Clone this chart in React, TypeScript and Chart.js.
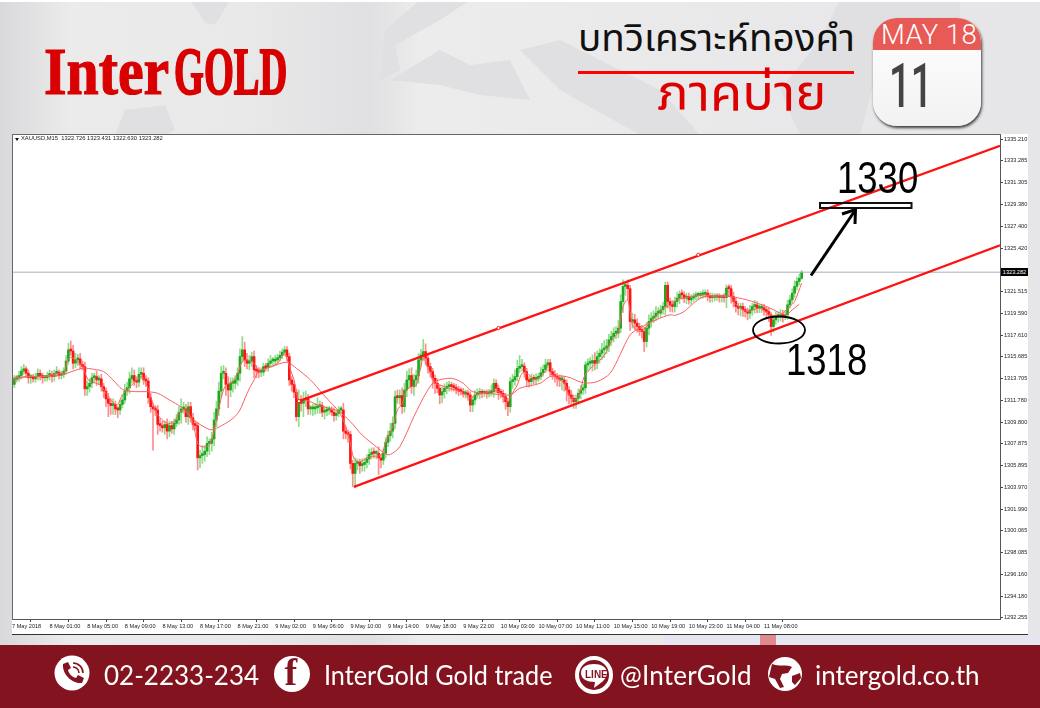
import React, { useEffect, useRef } from "react";
import { Chart, registerables } from "chart.js";

Chart.register(...registerables);

// 15-minute closes, one row per axis label (16 candles)
const closes = [
  1313.2,1313.7,1313.8,1314.0,1314.4,1314.6,1314.2,1313.8,1313.9,1313.7,1313.9,1314.2,1314.0,1313.8,1313.8,1314.0,
  1314.1,1313.9,1314.2,1314.3,1314.0,1314.1,1314.4,1315.3,1316.3,1316.2,1315.1,1315.4,1315.5,1315.0,1314.8,1312.8,
  1313.0,1313.3,1313.8,1313.9,1313.6,1313.7,1313.0,1312.6,1311.9,1311.5,1311.3,1311.4,1311.0,1310.9,1311.4,1311.8,
  1312.6,1312.9,1313.7,1314.0,1313.5,1313.4,1314.1,1314.2,1313.6,1313.5,1312.0,1311.2,1311.0,1310.9,1309.6,1309.5,
  1309.3,1309.6,1309.0,1309.5,1309.2,1309.7,1310.0,1310.7,1311.0,1311.0,1310.3,1311.2,1310.2,1309.6,1309.5,1306.6,
  1306.8,1306.9,1307.2,1307.9,1307.9,1308.3,1310.0,1311.0,1312.6,1314.2,1314.2,1313.2,1312.7,1313.3,1313.3,1313.6,
  1314.2,1315.7,1316.3,1315.4,1315.1,1315.3,1315.7,1314.5,1314.4,1314.3,1314.3,1314.8,1314.7,1315.1,1315.3,1315.3,
  1315.4,1315.6,1315.8,1316.1,1316.3,1315.7,1313.6,1313.2,1312.5,1310.3,1311.7,1311.5,1311.8,1311.9,1311.0,1311.0,
  1311.0,1311.1,1311.2,1311.3,1310.7,1310.8,1310.9,1310.9,1310.7,1310.4,1310.6,1310.9,1310.9,1309.0,1308.8,1308.7,
  1306.1,1305.2,1306.1,1306.2,1305.9,1306.0,1306.2,1306.5,1306.9,1307.1,1307.0,1307.0,1306.6,1306.4,1307.0,1308.0,
  1308.6,1309.0,1309.7,1312.1,1312.0,1312.2,1311.2,1312.7,1313.6,1314.0,1313.0,1313.6,1314.0,1315.4,1315.85,1316.15,
  1315.55,1314.8,1314.35,1313.75,1313.3,1312.85,1312.25,1312.55,1312.85,1313.0,1313.1,1313.0,1312.9,1312.75,1312.6,1312.55,
  1312.35,1312.4,1312.25,1311.35,1311.8,1312.25,1312.4,1312.45,1312.4,1312.4,1312.35,1312.45,1312.55,1313.3,1312.85,1312.45,
  1312.4,1312.1,1311.65,1311.2,1313.45,1313.6,1313.9,1314.65,1314.8,1314.85,1314.35,1313.6,1313.45,1313.75,1313.65,1313.75,
  1313.9,1314.25,1314.55,1314.95,1315.15,1314.35,1314.05,1313.9,1313.75,1313.6,1313.6,1313.3,1312.7,1312.25,1311.95,1311.65,
  1311.95,1312.4,1312.7,1312.9,1314.95,1315.1,1315.1,1315.35,1315.1,1315.7,1316.0,1316.3,1316.45,1316.65,1317.2,1317.5,
  1317.8,1317.8,1318.25,1320.65,1322.0,1322.1,1321.8,1318.85,1319.0,1318.7,1318.4,1318.1,1317.95,1317.05,1318.25,1318.85,
  1319.15,1319.3,1319.6,1319.6,1319.9,1320.2,1322.1,1320.65,1320.35,1320.2,1320.65,1320.95,1321.3,1321.25,1320.95,1321.1,
  1320.8,1320.95,1321.1,1321.2,1321.2,1321.25,1321.3,1321.4,1321.1,1321.0,1321.0,1321.05,1321.05,1321.0,1321.05,1321.0,
  1321.85,1321.8,1321.1,1320.65,1320.2,1320.05,1320.2,1319.9,1319.75,1319.6,1319.9,1320.2,1320.35,1320.05,1320.05,1320.1,
  1319.9,1319.75,1319.45,1318.4,1319.0,1319.3,1319.3,1319.45,1319.3,1319.45,1320.35,1320.8,1321.4,1322.0,1322.45,1322.73,
  1323.282,
];
const firstOpen = 1313.6;

// length of the upper wick above the body of each candle
const upperWicks = [
  .3,.3,.2,.4,.4,.4,.2,.3,.2,.2,.3,.4,.3,.2,.2,.3,
  .4,.3,.3,.5,.2,.3,.3,.5,.6,.8,.5,.6,.4,.5,.3,.4,
  .5,.4,.4,.3,.5,.3,.4,.3,.3,.5,.4,.5,.3,.2,.4,.5,
  .6,.5,.6,.7,.5,.4,.6,.5,.5,.4,.3,.4,.3,.3,.4,.5,
  .4,.3,.5,.4,.4,.4,.5,.5,.9,.6,.4,.4,.4,.4,.3,.3,
  .5,.8,.5,.6,.4,.6,.7,.7,.8,.6,.7,.5,.7,.5,.5,.4,
  .5,.7,1.2,.7,.6,.5,.4,.5,.4,.3,.4,.3,.3,.4,.5,.3,
  .4,.3,.4,.3,.3,.3,.3,.3,.3,.3,1.0,.5,.7,.7,.4,.3,
  .4,.4,.8,.4,.3,.4,.3,.3,.3,.4,.3,.3,.3,.6,.4,.3,
  .3,.3,.5,.3,.3,.5,.4,.4,.5,.4,.4,.3,.6,.3,.4,.4,
  .4,.7,.6,.5,.6,.5,.7,.6,.8,.6,.7,.5,.5,.6,.5,1.1,
  .7,.3,.3,.3,.3,.4,.3,.4,.4,.4,.4,.3,.3,.3,.3,.3,
  .3,.3,.3,.3,.3,.4,.4,.4,.3,.3,.3,.3,.6,.4,.3,.3,
  .3,.3,.3,.3,.4,.5,.6,.7,1.0,.6,.3,.3,.3,.4,.3,.4,
  .3,.5,.4,.5,.3,.3,.3,.4,.3,.3,.4,.3,.3,.3,.4,.3,
  .3,.4,.4,.3,.3,.4,.5,.5,.7,.5,.4,.6,.7,.6,.5,.5,
  .5,.6,.7,.6,.6,.3,.5,.3,.6,.5,.4,.3,.4,.4,.5,.6,
  .5,.5,.6,.5,.4,.4,.3,.3,.3,.4,.4,.5,.3,.4,.3,.3,
  .3,.3,.3,.3,.3,.3,.4,.3,.3,.3,.4,.3,.3,.3,.2,.3,
  .3,.3,.3,.4,.3,.3,.3,.3,.3,.3,.4,.3,.4,.3,.3,.3,
  .3,.3,.3,.2,.4,.4,.4,.5,.4,.4,.4,.4,.4,.5,.4,.4,
  .15,
];

// length of the lower wick below the body of each candle
const lowerWicks = [
  .6,.3,.3,.3,.3,.3,.4,.5,.5,.3,.3,.3,.4,.5,.3,.3,
  .4,.5,.4,.3,.3,.3,.3,.3,.3,.4,.5,.4,.5,.4,.3,.6,
  .6,.5,.4,.4,.5,.4,.4,.6,.7,1.2,.8,.8,.5,.7,.4,.3,
  .3,.4,.5,.4,.4,.5,.4,.4,.4,.5,.5,.5,3.7,.5,.9,.5,
  .4,.6,.7,.5,.4,.5,.3,.4,1.0,.4,.5,.7,.4,.5,.4,1.1,
  .9,.7,.6,.5,1.0,.7,.6,.6,.6,.6,.5,1.0,1.6,.6,.8,.5,
  .5,.7,.5,.6,.5,.6,.5,.7,.6,.5,.4,.3,.3,.3,.3,.3,
  .3,.3,.3,.3,.3,.4,.5,.6,.5,.4,.9,.7,1.2,.6,.5,.5,
  .6,.5,.5,.6,.4,.6,.4,.4,.3,.5,.4,.3,.3,.7,.5,.7,
  .5,1.2,1.3,.6,.7,.5,.6,.5,.5,.4,.4,.5,1.5,.7,.4,.4,
  .4,.5,.6,.5,.5,.6,.6,.5,.6,.7,.6,.8,.6,.7,.6,.5,
  .6,.6,.5,.9,.9,.4,.8,.7,.6,.5,.4,.4,.3,.4,.4,.3,
  .3,.4,.5,.6,.6,.4,.3,.5,.4,.3,.4,.3,.3,.5,.4,.6,
  .4,.5,.7,.8,.5,.6,.5,.4,.4,.4,.5,.6,.5,.4,.4,.4,
  .3,.3,.3,.3,.3,.4,.4,.5,.7,.6,.9,.7,1.0,.8,.5,.6,
  .6,.5,.5,.4,.5,.5,.5,.7,.6,.5,.6,.6,.7,.5,.5,.5,
  .5,.5,.4,.4,1.0,.8,1.0,.8,.6,.6,.5,.5,.6,.9,.5,.6,
  .5,.4,.4,.5,.4,.4,.8,.6,.6,.5,.5,.5,.5,.4,.4,.5,
  .4,.4,.3,.3,.3,.3,.3,.3,.4,.4,.4,.3,.3,.4,.4,.4,
  .9,.7,.6,.5,.5,.6,.7,.6,.5,.6,.5,.5,.6,.4,.4,.4,
  .5,.5,.6,.8,.5,.4,.5,.4,.5,.3,.4,.3,.3,.4,.3,.3,
  .1,
];

const slowMaIndex = [0,6,13,21,30,35,39,43,47,52,57,62,67,72,77,84,87,94,97,100,103,105,110,117,121,127,132,138,144,149,155,159,161,165,171,176.5,180,187,192,196,203,212,216,224.7,229,236,243,249,254.5,258.7,263,267,274,280,282,286,290,294,300,305.5,312.6,321,327,329.6,332,335];
const slowMaValues = [1313.45,1313.9,1313.9,1314.05,1314.65,1314.55,1314.35,1313.6,1312.75,1312.55,1312.55,1312.4,1311.8,1311.15,1310.05,1309.15,1309.25,1310.15,1310.9,1312.4,1313.6,1314.35,1314.75,1315.2,1314.65,1313.6,1312.4,1311.05,1309.85,1308.65,1307.6,1306.95,1306.9,1307.6,1310.3,1312.55,1313.45,1313.75,1313.3,1312.55,1312.4,1312.25,1312.85,1313.3,1313.9,1313.9,1313.35,1313.45,1314.2,1315.85,1317.65,1318.25,1319.0,1319.45,1319.4,1319.75,1320.5,1321.05,1321.2,1321.1,1320.8,1320.2,1319.6,1319.45,1319.9,1320.4];

const fastMaIndex = [0,6,13,20,22,24,26,30,32.5,37.5,40,44.5,47,51,55,57,59.5,61.5,66,69,71.5,74,77,79,81,84,87,89,91,94,96,98,100,103,105,108,113,116,118,120,122,125,130,135,139,142,144,145.5,148,152,157,159,162,164,166,168,170,172,174,175,178,180,182,186,191,195,197,201,205,208,211,212.5,215,217,219,223,228,230,235,237,239.5,241.5,243.5,247,251,253,254.5,256,258,260,262,264,267,270,274,277.5,280.5,283,289,294.5,300,305.5,307.5,312.6,318,322.5,327,331,333,336];
const fastMaValues = [1313.75,1313.9,1313.9,1314.2,1314.2,1315.55,1315.55,1314.8,1313.6,1313.15,1312.4,1311.35,1312.25,1313.15,1313.9,1313.3,1311.8,1310.6,1309.7,1309.85,1310.75,1310.9,1309.7,1307.9,1307.6,1307.75,1310.0,1311.95,1313.15,1313.45,1314.2,1315.25,1315.4,1315.1,1314.5,1314.65,1315.1,1316.0,1314.8,1313.6,1311.8,1311.8,1311.35,1311.05,1310.75,1309.4,1307.9,1306.55,1306.25,1306.7,1306.85,1308.05,1309.4,1310.9,1311.5,1312.7,1313.0,1313.15,1314.8,1315.55,1314.2,1313.3,1313.15,1312.85,1312.55,1311.95,1312.25,1312.4,1312.7,1312.4,1311.65,1312.25,1313.15,1314.2,1314.2,1313.6,1314.5,1314.05,1313.3,1312.25,1311.8,1312.4,1313.9,1314.8,1315.55,1316.15,1316.9,1317.35,1317.95,1320.2,1320.8,1318.55,1317.95,1318.4,1319.3,1320.05,1320.35,1320.8,1321.1,1321.25,1321.05,1321.1,1320.5,1319.75,1320.05,1319.45,1319.45,1320.2,1320.65,1322.3];

const upperChannelIndex = [122.1, 420.4];
const upperChannelValues = [1311.7, 1334.63];
const lowerChannelIndex = [145.5, 420.4];
const lowerChannelValues = [1303.99, 1325.7];
const anchorIndex = [122.1, 207, 292];
const anchorValues = [1311.7, 1318.27, 1324.85];
const currentPrice = 1323.282;

const xTickIndex = [0,16,32,48,64,80,96,112,128,144,160,176,192,208,224,240,256,272,288,304,320];
const xTickLabels = ["7 May 2018","8 May 01:00","8 May 05:00","8 May 09:00","8 May 13:00","8 May 17:00","8 May 21:00","9 May 02:00","9 May 06:00","9 May 10:00","9 May 14:00","9 May 18:00","9 May 22:00","10 May 03:00","10 May 07:00","10 May 11:00","10 May 15:00","10 May 19:00","10 May 23:00","11 May 04:00","11 May 08:00"];
const yTickValues = [1335.21,1333.285,1331.305,1329.38,1327.4,1325.42,1323.465,1321.515,1319.59,1317.61,1315.685,1313.705,1311.78,1309.8,1307.875,1305.895,1303.97,1301.99,1300.065,1298.085,1296.16,1294.18,1292.255];

const axisFont = { family: "'Liberation Sans'", size: 5.6 };

function pts(xs: number[], ys: number[]) {
  return xs.map((x, i) => ({ x, y: ys[i] }));
}

function PriceChart() {
  const ref = useRef<HTMLCanvasElement | null>(null);
  useEffect(() => {
    const opens = closes.map((_, i) => (i === 0 ? firstOpen : closes[i - 1]));
    const bull = closes.map((c, i) => c >= opens[i]);
    const wickData = closes.map((c, i) => ({
      x: i,
      y: [Math.min(c, opens[i]) - lowerWicks[i], Math.max(c, opens[i]) + upperWicks[i]],
    }));
    const bodyData = closes.map((c, i) => ({ x: i, y: [opens[i], c] }));
    const line = (data: any, color: string, width: number, order: number, tension = 0) => ({
      type: "line", data, borderColor: color, borderWidth: width, pointRadius: 0, tension, order,
    });
    const chart = new Chart(ref.current as HTMLCanvasElement, {
      type: "bar",
      data: {
        datasets: [
          { data: wickData, grouped: false, barThickness: 1, order: 6, backgroundColor: bull.map((b) => (b ? "#8fdc8a" : "#ff8c8c")) },
          { data: bodyData, grouped: false, barThickness: 2, minBarLength: 2, order: 5, backgroundColor: bull.map((b) => (b ? "#1fa81f" : "#ff1414")) },
          line(pts([0, 420.4], [currentPrice, currentPrice]), "#a3afc0", 1, 4),
          line(pts(slowMaIndex, slowMaValues), "#fa6060", 1, 3, 0.3),
          line(pts(fastMaIndex, fastMaValues), "#fa6060", 1, 3, 0.3),
          line(pts(upperChannelIndex, upperChannelValues), "#ff1212", 2.2, 2),
          line(pts(lowerChannelIndex, lowerChannelValues), "#ff1212", 2.2, 2),
          { type: "line", data: pts(anchorIndex, anchorValues), showLine: false, pointRadius: 1.6, pointBorderWidth: 1, pointBorderColor: "#ff1818", pointBackgroundColor: "#ffffff", order: 1 },
        ] as any,
      },
      options: {
        animation: false,
        responsive: false,
        devicePixelRatio: 1,
        layout: { padding: { left: 12, right: 0, top: 135, bottom: 74 } },
        plugins: { legend: { display: false }, tooltip: { enabled: false } },
        scales: {
          x: {
            type: "linear",
            offset: false,
            min: 0,
            max: 420.4,
            afterBuildTicks: (s: any) => { s.ticks = xTickIndex.map((value) => ({ value })); },
            afterFit: (s: any) => { s.height = 15; },
            ticks: {
              autoSkip: false, maxRotation: 0, align: "start", padding: 1, color: "#222", font: axisFont,
              callback: (_v: any, i: number) => xTickLabels[i],
            },
            grid: { drawOnChartArea: false, drawTicks: true, tickLength: 3, color: "#444" },
            border: { color: "#555", width: 1 },
          },
          y: {
            position: "right",
            min: 1292.12,
            max: 1335.61,
            afterBuildTicks: (s: any) => { s.ticks = yTickValues.map((value) => ({ value })); },
            afterFit: (s: any) => { s.width = 40; },
            ticks: {
              autoSkip: false, padding: 1, color: "#222", font: axisFont,
              callback: (v: any) => Number(v).toFixed(3),
            },
            grid: { drawOnChartArea: false, drawTicks: true, tickLength: 3, color: "#444" },
            border: { color: "#555", width: 1 },
          },
        },
      } as any,
    });
    return () => chart.destroy();
  }, []);
  return <canvas ref={ref} width={1040} height={708} style={{ position: "absolute", left: 0, top: 0, display: "block" }} />;
}

function Txt({ x, y, size, children, color = "#000", font = "Roboto", weight = 400, sx = 1, ls = 0, stroke = 0 }: any) {
  return (
    <div style={{ position: "absolute", left: x, top: y, fontSize: size, color, fontFamily: font, fontWeight: weight, lineHeight: 1, whiteSpace: "nowrap", transform: `scaleX(${sx})`, transformOrigin: "left top", letterSpacing: ls, WebkitTextStroke: stroke ? `${stroke}px ${color}` : undefined }}>
      {children}
    </div>
  );
}

export default function App() {
  useEffect(() => { document.body.style.margin = "0"; }, []);
  const thai = "'Noto Sans Thai','Noto Sans','DejaVu Sans',sans-serif";
  const foot = "Lato, 'Open Sans', sans-serif";
  return (
    <div style={{ position: "absolute", left: 0, top: 0, width: 1040, height: 708, overflow: "hidden", background: "linear-gradient(90deg,#d9d9db 0,#ebebec 70px,#e9e9ea 240px,#e0e0e2 370px,#ececed 420px,#e6e6e8 1040px)" }}>
      {/* faint world map behind the header */}
      <svg width={1040} height={708} style={{ position: "absolute", left: 0, top: 0 }}>
        <g fill="#e0e0e2">
          <path d="M190 0L230 0L215 25L205 22Z" />
          <path d="M115 135L125 110L165 105L175 130L165 135Z" />
          <path d="M385 30L420 0L470 0L440 20L395 45L400 70L380 80Z" />
          <path d="M390 80L440 50L470 65L510 60L530 100L480 95L440 85Z" />
          <path d="M520 50L560 40L660 90L700 135L640 135L560 90Z" />
          <path d="M840 0L960 0L960 20L880 60L860 135L800 135L780 90L820 40Z" />
        </g>
        <rect x={0} y={0} width={1040} height={2} fill="#fff" />
      </svg>

      {/* logo */}
      <Txt x={44} y={37} size={68} color="#d80000" font="'Liberation Serif'" weight={700} sx={0.85} stroke={1.2}>Inter</Txt>
      <Txt x={174} y={37} size={68} color="#d80000" font="'Liberation Serif'" weight={700} sx={0.565} stroke={2}>GOLD</Txt>

      {/* title */}
      <Txt x={578} y={22} size={37} font={thai} color="#111" sx={1.045}>บทวิเคราะห์ทองคำ</Txt>
      <div style={{ position: "absolute", left: 578, top: 71, width: 276, height: 3, background: "#ff0000" }} />
      <Txt x={657} y={70} size={50} font={thai} color="#dc0000" sx={1.05}>ภาคบ่าย</Txt>

      {/* calendar */}
      <div style={{ position: "absolute", left: 873, top: 18, width: 108, height: 108, borderRadius: 24, overflow: "hidden", background: "linear-gradient(#fff,#f2f2f2)", boxShadow: "1px 2px 3px rgba(0,0,0,0.75)" }}>
        <div style={{ position: "absolute", left: 0, top: 0, width: 108, height: 32, background: "#e85a55" }} />
      </div>
      <Txt x={881} y={21} size={27.5} color="#fff" font="Roboto" weight={300} ls={0.4}>MAY 18</Txt>
      <Txt x={889} y={55} size={62} color="#444" font="Roboto" weight={500} sx={0.62}>11</Txt>

      {/* white chart panel */}
      <div style={{ position: "absolute", left: 12, top: 134, width: 1016, height: 500, background: "#fff", borderBottom: "1px solid #333" }} />
      <div style={{ position: "absolute", left: 663, top: 635, width: 377, height: 10, background: "#e6e6f0" }} />
      <div style={{ position: "absolute", left: 760, top: 635, width: 16, height: 10, background: "#dc8c8c" }} />

      <PriceChart />

      <div style={{ position: "absolute", left: 12, top: 134, width: 988, height: 485, borderLeft: "1px solid #666", borderTop: "1px solid #666" }} />
      <Txt x={21} y={136} size={5.8} color="#222" font="'Liberation Sans'">XAUUSD,M15&nbsp; 1322.726 1323.431 1322.630 1323.282</Txt>
      <div style={{ position: "absolute", left: 15, top: 138, width: 0, height: 0, borderLeft: "2.5px solid transparent", borderRight: "2.5px solid transparent", borderTop: "3px solid #111" }} />
      <div style={{ position: "absolute", left: 1001, top: 268, width: 27, height: 8, background: "#000", color: "#fff", fontFamily: "'Liberation Sans'", fontSize: 5.6, lineHeight: "8px", textAlign: "center" }}>1323.282</div>

      {/* hand-drawn annotations */}
      <svg width={1040} height={708} style={{ position: "absolute", left: 0, top: 0 }}>
        <rect x={820} y={203} width={91.5} height={5} fill="none" stroke="#111" strokeWidth={2} />
        <path d="M811 275.5L854 212" stroke="#000" strokeWidth={3} fill="none" />
        <path d="M842 214L855.5 209.5L855 224" stroke="#000" strokeWidth={3} fill="none" />
        <ellipse cx={779} cy={330} rx={26} ry={13.5} fill="none" stroke="#000" strokeWidth={1.8} />
      </svg>
      <Txt x={837} y={156} size={44} font="'Liberation Sans'" sx={0.83}>1330</Txt>
      <Txt x={786} y={338} size={44} font="'Liberation Sans'" sx={0.83}>1318</Txt>

      {/* footer */}
      <div style={{ position: "absolute", left: 0, top: 645, width: 1040, height: 63, background: "#83141f" }} />
      <svg width={1040} height={708} style={{ position: "absolute", left: 0, top: 0 }}>
        <circle cx={72} cy={673} r={17.5} fill="#fff" />
        <path d="M63 664l5-2 3 6-3 2c1 4 4 7 8 8l2-3 6 3-2 5c-10 1-20-9-19-19z" fill="#83141f" />
        <path d="M73 663a10 10 0 0 1 10 10M73 667a6 6 0 0 1 6 6" stroke="#83141f" strokeWidth={1.6} fill="none" />
        <circle cx={292} cy={674} r={18} fill="#fff" />
        <circle cx={594} cy={675} r={17} fill="none" stroke="#fff" strokeWidth={4} />
        <path d="M581 673c0-6 6-9 13-9s13 3 13 9c0 7-8 11-13 15l1-6c-8 0-14-3-14-9z" fill="#fff" />
        <circle cx={785} cy={674} r={17} fill="#fff" />
        <path d="M772 664c6 3 16 0 20 3l-4 6-6 1-2 5 4 8-4 1-5-9-6-2zM792 676l8-3 1 5-6 7-3-3z" fill="#83141f" />
      </svg>
      <Txt x={284.5} y={653} size={38} color="#83141f" font="'Liberation Serif'" weight={700}>f</Txt>
      <Txt x={585} y={669.5} size={10} color="#83141f" font="'Liberation Sans'" weight={700}>LINE</Txt>
      <Txt x={104} y={662} size={26} color="#fff" font={foot}>02-2233-234</Txt>
      <Txt x={324} y={662} size={26} color="#fff" font={foot} sx={0.97}>InterGold Gold trade</Txt>
      <Txt x={620} y={662} size={26} color="#fff" font={foot} ls={0.2}>@InterGold</Txt>
      <Txt x={815} y={662} size={26} color="#fff" font={foot}>intergold.co.th</Txt>
    </div>
  );
}
